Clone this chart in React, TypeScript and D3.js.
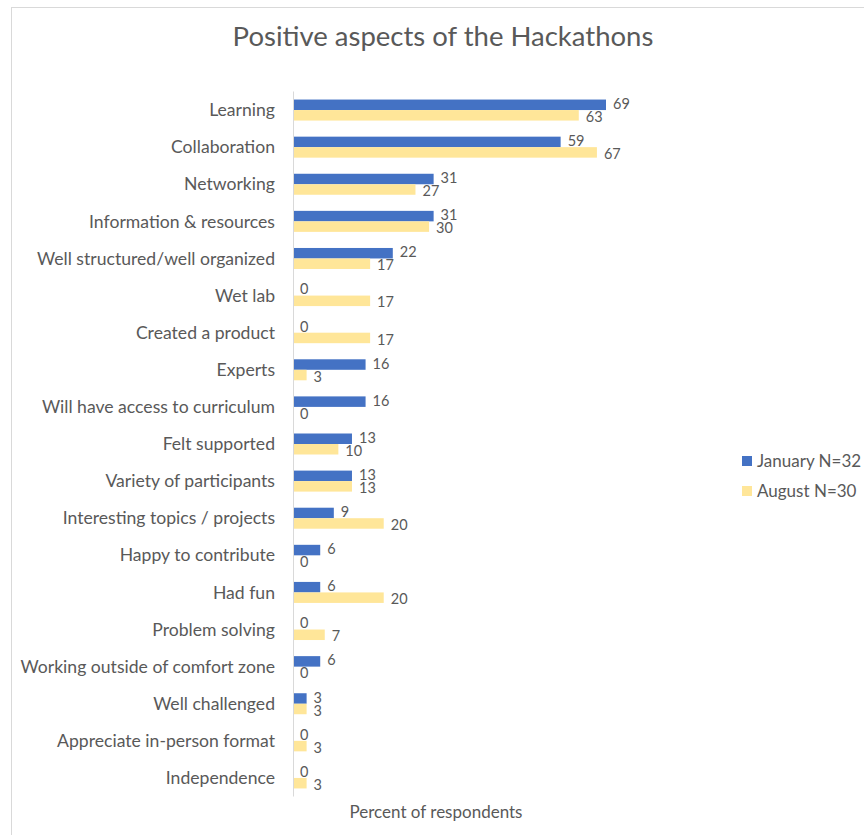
import React from "react";
import * as d3 from "d3";

const categories = [
  "Learning",
  "Collaboration",
  "Networking",
  "Information & resources",
  "Well structured/well organized",
  "Wet lab",
  "Created a product",
  "Experts",
  "Will have access to curriculum",
  "Felt supported",
  "Variety of participants",
  "Interesting topics / projects",
  "Happy to contribute",
  "Had fun",
  "Problem solving",
  "Working outside of comfort zone",
  "Well challenged",
  "Appreciate in-person format",
  "Independence",
];
const january = [69, 59, 31, 31, 22, 0, 0, 16, 16, 13, 13, 9, 6, 6, 0, 6, 3, 0, 0];
const august = [63, 67, 27, 30, 17, 17, 17, 3, 0, 10, 13, 20, 0, 20, 7, 0, 3, 3, 3];
const seriesNames = ["January N=32", "August N=30"];
const colors = ["#4472C4", "#FFE699"];

const W = 864;
const H = 835;
const FONT = "Lato, 'Open Sans', sans-serif";
const TEXT = "#595959";

export default function App() {
  const x0 = 293;
  const x = d3.scaleLinear().domain([0, 69]).range([x0, 606]);
  const y = d3.scaleBand<string>().domain(categories).range([91.5, 796.5]).padding(0);
  const bh = 10.5;
  return (
    <svg width={W} height={H} style={{ position: "absolute", left: 0, top: 0, background: "#fff" }} fontFamily={FONT}>
      <rect x={11.5} y={7.5} width={W} height={H} fill="#fff" stroke="#d9d9d9" strokeWidth={1} />
      <text x={443} y={46} textAnchor="middle" fontSize={27.5} fill={TEXT}>
        Positive aspects of the Hackathons
      </text>
      {categories.map((c, i) => {
        const cy = (y(c) as number) + y.bandwidth() / 2;
        return (
          <g key={c}>
            <text x={275} y={cy} dy="0.35em" textAnchor="end" fontSize={17.6} fill={TEXT}>
              {c}
            </text>
            <rect x={x0} y={cy - bh} width={x(january[i]) - x0} height={bh} fill={colors[0]} />
            <rect x={x0} y={cy} width={x(august[i]) - x0} height={bh} fill={colors[1]} />
            <text x={x(january[i]) + 7} y={cy - bh / 2 - 1} dy="0.35em" fontSize={14.5} fill={TEXT}>
              {january[i]}
            </text>
            <text x={x(august[i]) + 7} y={cy + bh / 2 + 1.5} dy="0.35em" fontSize={14.5} fill={TEXT}>
              {august[i]}
            </text>
          </g>
        );
      })}
      <line x1={x0 + 0.5} x2={x0 + 0.5} y1={91.5} y2={796.5} stroke="#d9d9d9" />
      <text x={436} y={818} textAnchor="middle" fontSize={17} fill={TEXT}>
        Percent of respondents
      </text>
      {seriesNames.map((s, i) => (
        <g key={s} transform={`translate(742, ${456 + i * 30})`}>
          <rect x={0} y={0} width={10} height={10} fill={colors[i]} />
          <text x={15} y={5} dy="0.35em" fontSize={17} fill={TEXT}>
            {s}
          </text>
        </g>
      ))}
    </svg>
  );
}
